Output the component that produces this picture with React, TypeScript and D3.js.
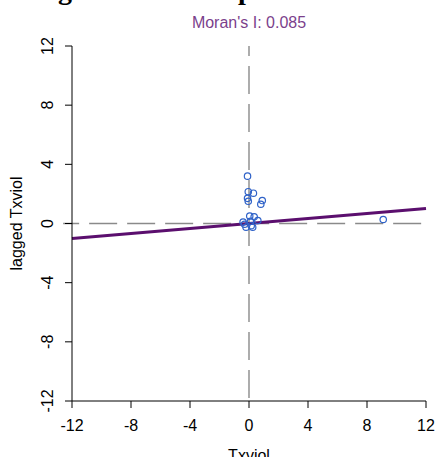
import React from 'react';
import * as d3 from 'd3';

// Moran scatterplot: Txviol vs spatially lagged Txviol
const txviol = [-0.1, -0.05, 0.3, -0.1, -0.05, 0.9, 0.8, 0.05, 0.35, 0.6, -0.3, -0.2, 0.25, -0.4, 0.1, 0.15, 9.1];
const laggedTxviol = [3.2, 2.15, 2.05, 1.7, 1.5, 1.55, 1.3, 0.5, 0.45, 0.2, -0.05, -0.25, -0.25, 0.1, 0.15, -0.15, 0.27];
const ticks = [-12, -8, -4, 0, 4, 8, 12];
const moranI = 0.085;

const App = () => {
  const width = 435;
  const height = 457;
  const margin = { top: 46, right: 9, bottom: 56, left: 72 };

  const x = d3.scaleLinear().domain([-12, 12]).range([margin.left, width - margin.right]);
  const y = d3.scaleLinear().domain([-12, 12]).range([height - margin.bottom, margin.top]);

  const fitLine = d3.line<number>()
    .x((d) => x(d))
    .y((d) => y(d * moranI));

  const font = 'Liberation Sans, Arial, sans-serif';
  const fs = 16;
  const x0 = x(-12);
  const y0 = y(-12);

  return (
    <svg width={width} height={height} style={{ position: 'absolute', left: 0, top: 0, background: '#fff' }}>
      {/* cropped heading (only descenders visible) */}
      <text x={58} y={-1} fontFamily="Liberation Serif, serif" fontWeight="bold" fontSize={28} fill="#000">g</text>
      <text x={238} y={-1} fontFamily="Liberation Serif, serif" fontWeight="bold" fontSize={28} fill="#000">p</text>

      <text x={x(0)} y={27.5} textAnchor="middle" fontFamily={font} fontSize={fs} fill="#7b3f8c">
        {`Moran's I: ${moranI.toFixed(3)}`}
      </text>

      {/* reference lines */}
      <line x1={x(0)} x2={x(0)} y1={y(12)} y2={y(-12)} stroke="#8a8a8a" strokeWidth={1.4} strokeDasharray="28,10" strokeDashoffset={18} />
      <line x1={x(-12.6)} x2={x(12)} y1={y(0)} y2={y(0)} stroke="#8a8a8a" strokeWidth={1.4} strokeDasharray="28,10" strokeDashoffset={12} />

      <path d={fitLine([-12, 12]) ?? ''} stroke="#5b0f6e" strokeWidth={3} fill="none" />

      {txviol.map((v, i) => (
        <circle key={i} cx={x(v)} cy={y(laggedTxviol[i])} r={3.2} fill="none" stroke="#2f62c8" strokeWidth={1.2} />
      ))}

      {/* x axis */}
      <line x1={x(-12)} x2={x(12)} y1={y0} y2={y0} stroke="#000" />
      {ticks.map((t) => (
        <g key={`x${t}`}>
          <line x1={x(t)} x2={x(t)} y1={y0} y2={y0 + 7} stroke="#000" />
          <text x={x(t)} y={y0 + 30} textAnchor="middle" fontFamily={font} fontSize={fs} fill="#000">{t}</text>
        </g>
      ))}
      <text x={x(0)} y={460.5} textAnchor="middle" fontFamily={font} fontSize={fs} fill="#000">Txviol</text>

      {/* y axis */}
      <line x1={x0} x2={x0} y1={y(12)} y2={y(-12)} stroke="#000" />
      {ticks.map((t) => (
        <g key={`y${t}`}>
          <line x1={x0 - 7} x2={x0} y1={y(t)} y2={y(t)} stroke="#000" />
          <text transform={`translate(${x0 - 19},${y(t)}) rotate(-90)`} textAnchor="middle" fontFamily={font} fontSize={fs} fill="#000">{t}</text>
        </g>
      ))}
      <text transform={`translate(22,${y(0)}) rotate(-90)`} textAnchor="middle" fontFamily={font} fontSize={fs} fill="#000">lagged Txviol</text>
    </svg>
  );
};

export default App;
